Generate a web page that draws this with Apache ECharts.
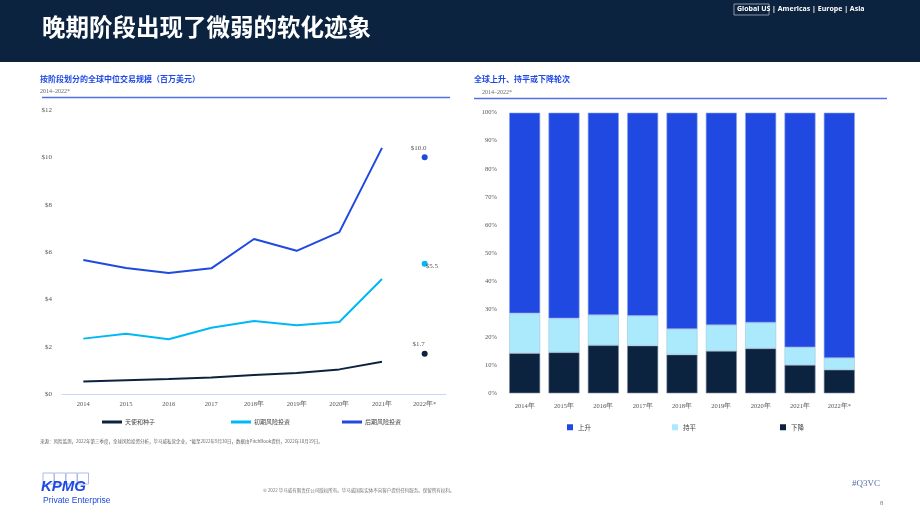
<!DOCTYPE html>
<html lang="zh">
<head>
<meta charset="UTF-8">
<title>晚期阶段出现了微弱的软化迹象</title>
<style>
  html, body { margin: 0; padding: 0; background: #fff; }
  #app { width: 920px; height: 518px; }
</style>
</head>
<body>
<div id="app"></div>
<script src="https://cdn.jsdelivr.net/npm/echarts@6/dist/echarts.min.js"></script>
<script>
// left chart data (USD millions)
const years = ['2014', '2015', '2016', '2017', '2018年', '2019年', '2020年', '2021年', '2022年*'];
const seed = [0.53, 0.58, 0.63, 0.70, 0.80, 0.89, 1.04, 1.36, '-'];
const early = [2.34, 2.55, 2.31, 2.80, 3.08, 2.90, 3.04, 4.86, '-'];
const late = [5.66, 5.32, 5.11, 5.31, 6.55, 6.05, 6.84, 10.40, '-'];
const seed2022 = 1.7;
const early2022 = 5.5;
const late2022 = 10.0;

// right chart data (% of rounds)
const barYears = ['2014年', '2015年', '2016年', '2017年', '2018年', '2019年', '2020年', '2021年', '2022年*'];
const down = [14.3, 14.6, 17.1, 17.0, 13.8, 15.1, 16.0, 10.1, 8.4];
const flat = [14.2, 12.1, 10.8, 10.6, 9.1, 9.2, 9.2, 6.3, 4.2];
const up = [71.5, 73.3, 72.1, 72.4, 77.1, 75.7, 74.8, 83.6, 87.4];

const navy = '#0c2340';
const blue = '#1f49e0';
const cyan = '#00b8f5';
const pale = '#abe9fd';
const serif = '"Liberation Serif", "DejaVu Serif", serif';
const cjk = '"Noto Sans CJK SC", sans-serif';

function only2022(v) {
  return years.map((y, i) => i === years.length - 1 ? v : '-');
}

const myChart = echarts.init(document.getElementById('app'));

const legendBase = {
  itemWidth: 20, itemHeight: 3, itemGap: 0,
  itemStyle: { borderWidth: 0 },
  textStyle: { fontSize: 6, color: '#444', fontFamily: cjk, padding: [0, 0, 0, -2] }
};
const barLegendBase = {
  itemWidth: 6, itemHeight: 6, itemGap: 0, icon: 'rect',
  itemStyle: { borderWidth: 0 },
  textStyle: { fontSize: 6.5, color: '#444', fontFamily: cjk }
};

const options = {
  animation: false,
  textStyle: { fontFamily: cjk },
  graphic: [
    { type: 'rect', shape: { x: 0, y: 0, width: 920, height: 62 }, style: { fill: navy } },
    { type: 'text', left: 42, top: 15, style: { text: '晚期阶段出现了微弱的软化迹象', fill: '#fff', font: 'bold 23.5px "Noto Sans CJK SC"' } },
    { type: 'rect', shape: { x: 734, y: 4, width: 35, height: 11 }, style: { fill: 'none', stroke: '#8a97a8', lineWidth: 1 } },
    { type: 'text', left: 737, top: 5.5, style: { text: 'Global US | Americas | Europe | Asia', fill: '#fff', font: 'bold 7px "Open Sans"' } },

    { type: 'text', left: 40, top: 75, style: { text: '按阶段划分的全球中位交易规模（百万美元）', fill: '#1e49e2', font: 'bold 8px "Noto Sans CJK SC"' } },
    { type: 'text', left: 40, top: 88, style: { text: '2014–2022*', fill: '#666', font: '6px "Liberation Serif"' } },
    { type: 'line', shape: { x1: 42, y1: 97.5, x2: 450, y2: 97.5 }, style: { stroke: '#4f72e8', lineWidth: 1.5 } },

    { type: 'text', left: 474, top: 75, style: { text: '全球上升、持平或下降轮次', fill: '#1e49e2', font: 'bold 8px "Noto Sans CJK SC"' } },
    { type: 'text', left: 482, top: 89, style: { text: '2014–2022*', fill: '#666', font: '6px "Liberation Serif"' } },
    { type: 'line', shape: { x1: 474, y1: 98.5, x2: 887, y2: 98.5 }, style: { stroke: '#4f72e8', lineWidth: 1.5 } },

    { type: 'text', left: 40, top: 439, style: { text: '来源：风险监测，2022年第三季度，全球风险投资分析，毕马威私营企业，*截至2022年9月30日，数据由PitchBook提供，2022年10月19日。', fill: '#666', font: '4.5px "Noto Sans CJK SC"' } },

    { type: 'rect', shape: { x: 43, y: 473, width: 11, height: 11 }, style: { fill: 'none', stroke: '#aebbe8', lineWidth: 1 } },
    { type: 'rect', shape: { x: 54.5, y: 473, width: 11, height: 11 }, style: { fill: 'none', stroke: '#aebbe8', lineWidth: 1 } },
    { type: 'rect', shape: { x: 66, y: 473, width: 11, height: 11 }, style: { fill: 'none', stroke: '#aebbe8', lineWidth: 1 } },
    { type: 'rect', shape: { x: 77.5, y: 473, width: 11, height: 11 }, style: { fill: 'none', stroke: '#aebbe8', lineWidth: 1 } },
    { type: 'text', left: 41, top: 479, style: { text: 'KPMG', fill: '#1e49e2', font: 'italic bold 15px "Liberation Sans"' } },
    { type: 'text', left: 43, top: 496, style: { text: 'Private Enterprise', fill: '#1e49e2', font: '8.5px "Liberation Sans Narrow", "Liberation Sans"' } },

    { type: 'text', left: 263, top: 488, style: { text: '© 2022 毕马威有限责任公司版权所有。毕马威国际实体不向客户提供任何服务。保留所有权利。', fill: '#777', font: '4.5px "Noto Sans CJK SC"' } },
    { type: 'text', left: 852, top: 479, style: { text: '#Q3VC', fill: '#5a6fa5', font: '9px "Liberation Serif"' } },
    { type: 'text', left: 880, top: 500, style: { text: '8', fill: '#777', font: '6.5px "Liberation Serif"' } }
  ],
  legend: [
    Object.assign({ left: 97, top: 414, data: [{ name: '天使和种子', icon: 'rect' }] }, legendBase),
    Object.assign({ left: 226, top: 414, data: [{ name: '初期风险投资', icon: 'rect' }] }, legendBase),
    Object.assign({ left: 337, top: 414, data: [{ name: '后期风险投资', icon: 'rect' }] }, legendBase),
    Object.assign({ left: 562, top: 419, data: ['上升'] }, barLegendBase),
    Object.assign({ left: 667, top: 419, data: ['持平'] }, barLegendBase),
    Object.assign({ left: 775, top: 419, data: ['下降'] }, barLegendBase)
  ],
  grid: [
    { left: 62, right: 474, top: 110, bottom: 124 },
    { left: 505, right: 61, top: 112.7, bottom: 124.7 }
  ],
  xAxis: [
    {
      gridIndex: 0, type: 'category', data: years,
      axisLine: { lineStyle: { color: '#c8d8f2', width: 1 } },
      axisTick: { show: false },
      axisLabel: { fontSize: 6.5, color: '#555', fontFamily: serif, margin: 7 }
    },
    {
      gridIndex: 1, type: 'category', data: barYears,
      axisLine: { show: false }, axisTick: { show: false },
      axisLabel: { fontSize: 6.5, color: '#555', fontFamily: serif, margin: 9 }
    }
  ],
  yAxis: [
    {
      gridIndex: 0, type: 'value', min: 0, max: 12, interval: 2,
      splitLine: { show: false }, axisLine: { show: false }, axisTick: { show: false },
      axisLabel: { fontSize: 7, color: '#555', fontFamily: serif, margin: 10, formatter: v => '$' + v }
    },
    {
      gridIndex: 1, type: 'value', min: 0, max: 100, interval: 10,
      splitLine: { show: false }, axisLine: { show: false }, axisTick: { show: false },
      axisLabel: { fontSize: 6.5, color: '#555', fontFamily: serif, margin: 8, formatter: v => v + '%' }
    }
  ],
  series: [
    { name: '天使和种子', type: 'line', xAxisIndex: 0, yAxisIndex: 0, data: seed, showSymbol: false, color: navy, lineStyle: { width: 2, color: navy } },
    { name: '初期风险投资', type: 'line', xAxisIndex: 0, yAxisIndex: 0, data: early, showSymbol: false, color: cyan, lineStyle: { width: 2, color: cyan } },
    { name: '后期风险投资', type: 'line', xAxisIndex: 0, yAxisIndex: 0, data: late, showSymbol: false, color: blue, lineStyle: { width: 2, color: blue } },
    {
      name: '天使和种子', type: 'scatter', xAxisIndex: 0, yAxisIndex: 0, data: only2022(seed2022), symbolSize: 6, itemStyle: { color: navy, opacity: 1 },
      label: { show: true, position: 'top', offset: [-6, 0], distance: 3, formatter: p => '$' + p.value.toFixed(1), fontSize: 7, color: '#555', fontFamily: serif }
    },
    {
      name: '初期风险投资', type: 'scatter', xAxisIndex: 0, yAxisIndex: 0, data: only2022(early2022), symbolSize: 6, itemStyle: { color: cyan, opacity: 1 },
      label: { show: true, position: 'right', offset: [-3, 2], distance: 1, formatter: p => '$' + p.value.toFixed(1), fontSize: 7, color: '#555', fontFamily: serif }
    },
    {
      name: '后期风险投资', type: 'scatter', xAxisIndex: 0, yAxisIndex: 0, data: only2022(late2022), symbolSize: 6, itemStyle: { color: blue, opacity: 1 },
      label: { show: true, position: 'top', offset: [-6, 0], distance: 3, formatter: p => '$' + p.value.toFixed(1), fontSize: 7, color: '#555', fontFamily: serif }
    },
    { name: '下降', type: 'bar', stack: 'r', xAxisIndex: 1, yAxisIndex: 1, data: down, barWidth: 31, itemStyle: { color: navy, borderColor: '#7f8ea3', borderWidth: 0.6 } },
    { name: '持平', type: 'bar', stack: 'r', xAxisIndex: 1, yAxisIndex: 1, data: flat, barWidth: 31, itemStyle: { color: pale, borderColor: '#9fc6dc', borderWidth: 0.6 } },
    { name: '上升', type: 'bar', stack: 'r', xAxisIndex: 1, yAxisIndex: 1, data: up, barWidth: 31, itemStyle: { color: blue, borderColor: '#8ea3ef', borderWidth: 0.6 } }
  ]
};
myChart.setOption(options);
</script>
</body>
</html>
